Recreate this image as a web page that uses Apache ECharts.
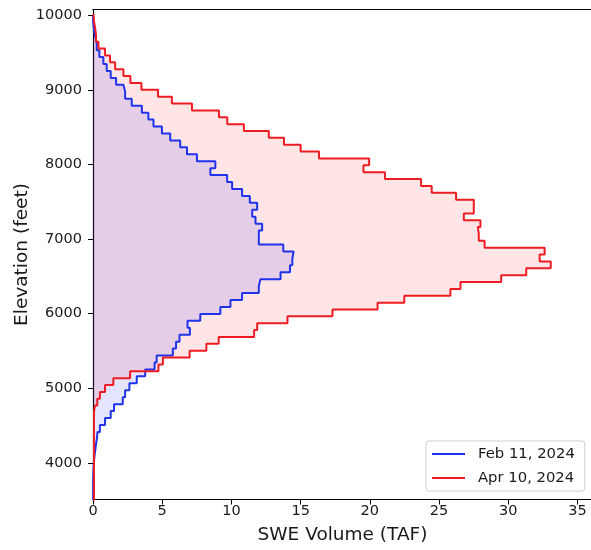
<!DOCTYPE html>
<html><head><meta charset="utf-8">
<script src="https://cdn.jsdelivr.net/npm/echarts@6/dist/echarts.min.js"></script>
<style>html,body{margin:0;padding:0;background:#fff}#c{width:591px;height:550px}</style>
</head><body><div id="c"></div>
<script>
// Elevation bin edges (feet) and SWE volume per bin (TAF)
const febEdges = [3486,3579,3672,3765,3858,3951,4044,4137,4230,4323,4416,4509,4602,4695,4788,4881,4974,5067,5160,5253,5346,5439,5532,5625,5718,5811,5904,5997,6090,6183,6276,6369,6462,6555,6648,6741,6834,6927,7020,7113,7206,7299,7392,7485,7578,7671,7764,7857,7950,8043,8136,8229,8322,8415,8508,8601,8694,8787,8880,8973,9066,9159,9252,9345,9438,9531,9624,9717,9810,9903,9996];
const febVolume = [0.01,0.01,0.01,0.02,0.04,0.08,0.14,0.2,0.28,0.33,0.5,0.87,1.28,1.52,2.15,2.32,2.63,3.16,3.77,4.45,4.6,5.77,6.0,6.25,7.0,6.83,7.75,9.2,9.93,10.77,11.98,12.1,13.55,14.23,14.4,14.5,13.75,11.98,11.98,12.22,11.74,11.5,11.86,11.33,10.77,10.05,9.69,8.48,8.84,7.51,6.79,6.3,5.58,4.98,4.37,4.0,3.53,2.8,2.32,2.2,1.67,1.28,0.99,0.75,0.46,0.27,0.15,0.06,0.01,0.0];
const aprEdges = [3480,3572,3664,3756,3848,3940,4032,4124,4216,4308,4400,4492,4584,4676,4768,4860,4952,5044,5136,5228,5320,5412,5504,5596,5688,5780,5872,5964,6056,6148,6240,6332,6424,6516,6608,6700,6792,6884,6976,7068,7160,7252,7344,7436,7528,7620,7712,7804,7896,7988,8080,8172,8264,8356,8448,8540,8632,8724,8816,8908,9000,9092,9184,9276,9368,9460,9552,9644,9736,9828,9920,10012];
const aprVolume = [0.07,0.07,0.07,0.07,0.07,0.07,0.07,0.07,0.07,0.07,0.07,0.07,0.07,0.14,0.31,0.5,0.87,1.47,2.68,4.73,5.05,6.98,8.19,9.08,11.64,11.86,14.05,17.3,20.56,22.49,25.82,26.55,29.49,31.3,33.07,32.27,32.63,28.29,27.87,27.8,27.99,26.79,27.51,27.51,26.23,24.47,23.7,21.09,19.54,19.95,16.33,15.0,13.8,12.7,10.9,9.7,9.1,7.15,5.7,4.7,3.5,2.7,2.2,1.6,1.23,0.87,0.39,0.22,0.15,0.07,0.03];
const xTicks = [0,5,10,15,20,25,30,35];
const yTicks = [4000,5000,6000,7000,8000,9000,10000];
const seriesNames = ['Feb 11, 2024','Apr 10, 2024'];

const FONT = 'DejaVu Sans';
const TXT = '#1a1a1a';

function stepPoints(edges, vals){
  const pts = [];
  for (let i = 0; i < vals.length; i++) {
    pts.push([vals[i], edges[i]]);
    pts.push([vals[i], edges[i+1]]);
  }
  return pts;
}
function fillSeries(name, edges, vals, color){
  const poly = [[0, edges[0]]].concat(stepPoints(edges, vals), [[0, edges[edges.length-1]]]);
  return {
    type:'custom', name:name, silent:true, data: poly,
    renderItem: function(params, api){
      if (params.dataIndex !== 0) return null;
      const cs = params.coordSys;
      return {type:'polygon', shape:{points: poly.map(p => api.coord(p))},
        style:{fill: color},
        clipPath:{type:'rect', shape:{x:cs.x, y:cs.y, width:cs.width, height:cs.height}}};
    }
  };
}
function lineSeries(name, edges, vals, color){
  return {type:'line', name:name, data: stepPoints(edges, vals), showSymbol:false, symbol:'none',
    color: color, lineStyle:{color: color, width: 2}, clip:true, z:3};
}

const chart = echarts.init(document.getElementById('c'), null, {renderer:'canvas'});
chart.setOption({
  animation:false,
  backgroundColor:'#ffffff',
  textStyle:{fontFamily:FONT},
  grid:{left:93, top:9.5, width:499, height:490, containLabel:false, outerBoundsMode:'none'},
  legend:{
    data: seriesNames, orient:'vertical', left:426, top:441,
    icon:'rect', itemWidth:33, itemHeight:2.2, itemGap:7,
    padding:[4.5,10,4.5,6], borderColor:'#cfcfcf', borderWidth:1, borderRadius:3,
    backgroundColor:'rgba(255,255,255,0.85)',
    textStyle:{fontFamily:FONT, fontSize:14.8, color:TXT, lineHeight:17, padding:[0,0,0,8]}
  },
  xAxis:[{
    type:'value', min:0, max:36.05, position:'bottom',
    name:'SWE Volume (TAF)', nameLocation:'middle', nameGap:26, nameMoveOverlap:false,
    nameTextStyle:{fontFamily:FONT, fontSize:18.5, color:TXT},
    axisLine:{lineStyle:{color:'#000', width:1.2}},
    axisTick:{show:true, length:5, lineStyle:{color:'#000', width:1}, customValues:xTicks},
    axisLabel:{fontFamily:FONT, fontSize:14.5, color:TXT, margin:4, customValues:xTicks},
    splitLine:{show:false}
  },{
    type:'value', min:0, max:36.05, position:'top',
    axisLine:{show:true, lineStyle:{color:'#000', width:1.2}},
    axisTick:{show:false}, axisLabel:{show:false}, splitLine:{show:false}
  }],
  yAxis:{
    type:'value', min:3510, max:10076,
    name:'Elevation (feet)', nameLocation:'middle', nameGap:61, nameRotate:90, nameMoveOverlap:false,
    nameTextStyle:{fontFamily:FONT, fontSize:18.5, color:TXT},
    axisLine:{show:true, lineStyle:{color:'#000', width:1.2}},
    axisTick:{show:true, length:5, lineStyle:{color:'#000', width:1}, customValues:yTicks},
    axisLabel:{fontFamily:FONT, fontSize:14.5, color:TXT, margin:11, customValues:yTicks,
      formatter: v => String(v)},
    splitLine:{show:false}
  },
  series:[
    fillSeries('aprFill', aprEdges, aprVolume, 'rgba(255,0,0,0.1)'),
    fillSeries('febFill', febEdges, febVolume, 'rgba(0,0,255,0.1)'),
    lineSeries(seriesNames[0], febEdges, febVolume, '#1f33ea'),
    lineSeries(seriesNames[1], aprEdges, aprVolume, '#ee1c22')
  ]
});
</script>
</body></html>
